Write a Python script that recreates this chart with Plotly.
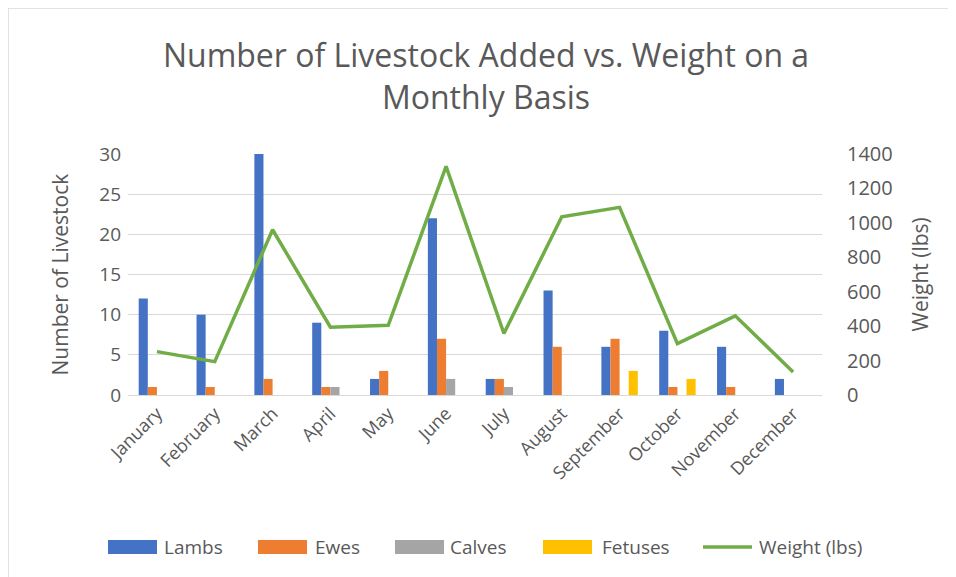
import plotly.graph_objects as go

months = ["January", "February", "March", "April", "May", "June", "July",
          "August", "September", "October", "November", "December"]
lambs = [12, 10, 30, 9, 2, 22, 2, 13, 6, 8, 6, 2]
ewes = [1, 1, 2, 1, 3, 7, 2, 6, 7, 1, 1, 0]
calves = [0, 0, 0, 1, 0, 2, 1, 0, 0, 0, 0, 0]
fetuses = [0, 0, 0, 0, 0, 0, 0, 0, 3, 2, 0, 0]
weight = [252, 194, 960, 394, 405, 1328, 357, 1035, 1090, 298, 460, 134]

series = [("Lambs", lambs, "#4472C4"), ("Ewes", ewes, "#ED7D31"),
          ("Calves", calves, "#A5A5A5"), ("Fetuses", fetuses, "#FFC000")]
LINE_COLOR = "#70AD47"

FONT = "'Open Sans', sans-serif"
GREY = "#595959"

# figure pixel geometry (the page adds an 8px body margin)
W, H = 956, 577
L, T = 120, 146
pw, ph = 694, 241
R, B = W - L - pw, H - T - ph

def px_x(v):
    return (v - L) / pw

def px_y(v):
    return (T + ph - v) / ph

fig = go.Figure()
for name, vals, col in series:
    fig.add_trace(go.Bar(x=months, y=vals, name=name, marker_color=col,
                         marker_line_width=0, showlegend=False))

fig.add_trace(go.Scatter(x=months, y=weight, name="Weight (lbs)", yaxis="y2",
                         mode="lines", line=dict(color=LINE_COLOR, width=3.5),
                         showlegend=False))

# hand-made legend, Excel style
shapes = [dict(type="rect", xref="paper", yref="paper",
               x0=px_x(0), x1=px_x(W), y0=px_y(H), y1=px_y(0),
               line=dict(color="#D9D9D9", width=1.5), fillcolor="rgba(0,0,0,0)",
               layer="below")]
annotations = []
leg_y = 539
keys = [(100, 154), (250, 305), (387, 440), (535, 592), (695, 749)]
labels = [s[0] for s in series] + ["Weight (lbs)"]
colors = [s[2] for s in series] + [LINE_COLOR]
for i, ((k0, t0), lab, col) in enumerate(zip(keys, labels, colors)):
    k1 = k0 + 49
    if i < 4:
        shapes.append(dict(type="rect", xref="paper", yref="paper",
                           x0=px_x(k0), x1=px_x(k1),
                           y0=px_y(leg_y + 7), y1=px_y(leg_y - 7),
                           fillcolor=col, line=dict(width=0)))
    else:
        shapes.append(dict(type="line", xref="paper", yref="paper",
                           x0=px_x(k0), x1=px_x(k1),
                           y0=px_y(leg_y), y1=px_y(leg_y),
                           line=dict(color=col, width=3.5)))
    annotations.append(dict(text=lab, xref="paper", yref="paper",
                            x=px_x(t0), y=px_y(leg_y), xanchor="left",
                            yanchor="middle", showarrow=False,
                            font=dict(size=19, color=GREY, family=FONT)))

annotations.append(dict(text="Number of Livestock", textangle=-90, xref="paper",
                        yref="paper", x=px_x(51), y=px_y(T + ph / 2),
                        xanchor="center", yanchor="middle", showarrow=False,
                        font=dict(size=21, color=GREY, family=FONT)))
annotations.append(dict(text="Weight (lbs)", textangle=-90, xref="paper",
                        yref="paper", x=px_x(911), y=px_y(T + ph / 2),
                        xanchor="center", yanchor="middle", showarrow=False,
                        font=dict(size=21, color=GREY, family=FONT)))

fig.update_layout(
    width=W, height=H,
    margin=dict(l=L, r=R, t=T, b=B, autoexpand=False),
    paper_bgcolor="white", plot_bgcolor="white",
    font=dict(family=FONT, color=GREY),
    barmode="group", bargap=0.37, bargroupgap=0,
    showlegend=False,
    title=dict(text="Number of Livestock Added vs. Weight on a<br>Monthly Basis",
               x=0.5, xref="container", xanchor="center", y=1 - 59 / H,
               yanchor="middle", font=dict(size=32, color=GREY, family=FONT)),
    xaxis=dict(tickangle=-45, tickfont=dict(size=18, color=GREY),
               showline=True, linecolor="#D9D9D9", linewidth=1, ticks="",
               showgrid=False, automargin=False),
    yaxis=dict(range=[0, 30], dtick=5, tickfont=dict(size=19, color=GREY),
               gridcolor="#D9D9D9", gridwidth=1, zeroline=False, ticks="",
               ticklabelstandoff=6, automargin=False),
    yaxis2=dict(range=[0, 1400], dtick=200, overlaying="y", side="right",
                tickfont=dict(size=20, color=GREY), showgrid=False, zeroline=False,
                ticks="", ticklabelstandoff=24, automargin=False),
    shapes=shapes,
    annotations=annotations,
)

fig.write_html("out.html")
